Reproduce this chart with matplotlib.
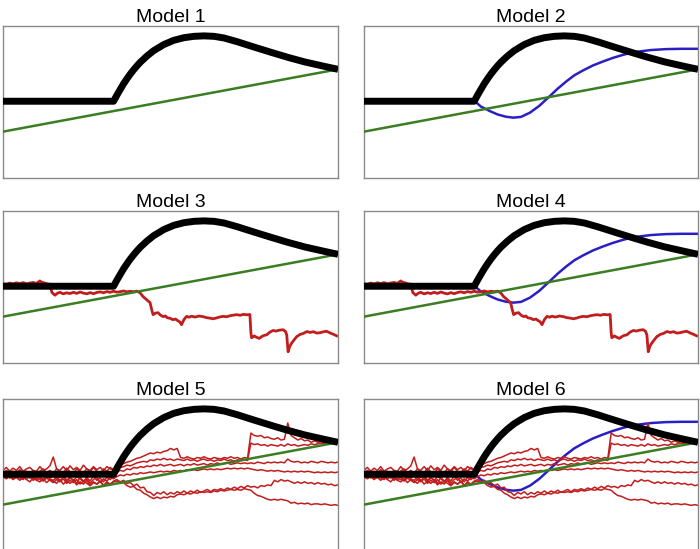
import matplotlib
matplotlib.use("Agg")
import matplotlib.pyplot as plt

# shared curves, in axes-percent units (0..100)
black_x = [0, 33, 34, 35, 36, 37, 38, 39, 40, 41, 43, 45, 48, 51, 54, 57, 60, 63, 66, 70, 75, 80, 85, 90, 95, 100]
black_y = [50.5, 50.5, 54.5, 58.3, 62, 65.3, 68.4, 71.2, 73.8, 76.2, 80.3, 83.8, 87.8, 90.6, 92.3, 93.2, 93.5, 93.2,
           92.1, 89.6, 86.1, 82.7, 79.4, 76.4, 73.9, 71.5]

green_x = [0, 100]
green_y = [30.5, 71.5]

blue_x = [33.2, 35, 37.7, 40, 42.5, 44.7, 47, 49.7, 52.5, 55.6, 58, 60.6, 63, 65.6, 68.5, 71.6, 74.5, 77.5, 80,
          82.6, 86, 90.5, 95, 100]
blue_y = [50.5, 47, 44, 41.8, 40.3, 39.7, 40.2, 43, 47.5, 53.8, 58.8, 63.6, 67.6, 70.8, 74, 76.7, 79, 81, 82.4,
          83.3, 84.2, 84.8, 85, 85]

# single red trace (models 3 and 4)
red1_x = [0, 1, 2, 3, 4, 5, 6, 7, 8, 9, 10, 11, 11.5, 12.5, 13.3, 14, 14.6, 15.5, 16.3, 17, 18, 19, 20, 21, 22, 23,
          24, 25, 26, 27, 28, 29, 30, 31, 32, 33, 34, 35, 36, 37, 38, 39, 40, 41, 41.8, 42.8, 43.9, 44.4, 44.8,
          45.5, 46.3, 47, 47.8, 48.5, 49, 50, 50.7, 51.5, 52.2, 52.8, 53.3, 54, 54.8, 55.5, 56.3, 57.3, 58.5, 59.7,
          60.8, 61.8, 62.7, 63.7, 64.7, 65.7, 66.7, 67.8, 68.8, 69.8, 70.8, 71.8, 72.8, 73.7, 74.0, 74.2, 75, 75.7,
          76.5, 77.3, 78, 78.7, 79.6, 80.6, 81.5, 82.5, 83.6, 84.3, 84.7, 85.1, 85.6, 86.2, 87, 87.7, 88.7, 89.7,
          90.7, 91.7, 92.7, 93.6, 94.6, 95.6, 96.6, 97.6, 98.6, 99.6]
red1_y = [52.3, 51.8, 52.6, 52, 52.8, 52.2, 52.9, 52.1, 52.6, 53, 52.4, 54, 53.2, 52.6, 52, 51.8, 46.4, 44.6, 46,
          46.5, 45.5, 46.2, 45.7, 46.5, 45.8, 46.7, 46, 45.5, 46.3, 45.6, 46.4, 46.8, 46.2, 47, 46.5, 47.2, 46.6,
          46.9, 47.4, 46.8, 47.2, 46.9, 47.3, 46, 43.7, 41.8, 39.7, 35, 31.8, 32.8, 33.1, 31.5, 30.5, 30.9, 29.8,
          29.3, 28.5, 28.9, 27.8, 27, 25.2, 28.5, 30.7, 30.1, 30.8, 30.2, 30.9, 30.5, 29.8, 29.5, 29.1, 29.6, 30.3,
          30.7, 30.4, 31.1, 31.5, 31.8, 31.4, 32.0, 31.7, 31.9, 20, 16.6, 17.8, 16.9, 16.2, 17.5, 18.2, 18.5, 20.2,
          21.4, 21, 21.6, 21.9, 20.8, 18.5, 7.4, 11, 13.2, 15.5, 17.4, 18.8, 19.5, 20.7, 20.1, 20.6, 19.7, 19.9,
          20.5, 20.9, 19.8, 18.9, 17.9]

# six red traces (models 5 and 6), one value per x step of 1
grid_x = list(range(101))
redA_y = [53, 55, 52.5, 54.5, 53, 55.5, 52.5, 54, 55, 53, 52.5, 55.5, 53, 54, 56, 61.8, 54, 53, 55.5, 53, 56,
          53.5, 55, 53, 56.5, 54, 53, 55.5, 53.5, 55, 53, 55.5, 54, 53.5,
          55.5, 56.5, 57.5, 58.5, 59, 60, 61, 61.5, 62.5, 63.5, 64.5, 64, 65, 64.5, 65.5, 66, 67.5, 66.5, 67.5,
          61.5, 61, 62, 61, 60.5, 61.5, 61, 62, 61, 60.5, 61.5, 61, 60.5, 61.5, 61, 62, 61, 61.5, 60.5, 61.5, 61,
          77.6, 76, 75.5, 76, 74.5, 75, 74, 73.5, 74.5, 73, 73.5, 84.2, 76, 74.5, 73, 74, 72.5, 73, 71.5, 72.5,
          71.5, 72, 71, 72, 71, 71.5, 71]
redB_y = [51, 53, 51.5, 52.5, 51, 53.5, 51.5, 52.5, 51, 53, 51, 52.5, 54, 51.5, 53, 51, 54, 52, 51.5, 54.5, 52,
          51, 54, 52.5, 51.5, 54, 52, 55, 52.5, 51.5, 54, 52.5, 55, 53.5,
          54, 55, 55.5, 56.5, 56, 57, 58, 58.5, 59, 58.5, 60, 59.5, 60.5, 60, 61, 60, 60.5, 59.5, 60.5, 60, 59.5,
          60.5, 59.5, 60, 59, 60, 60.5, 59.5, 60, 59, 60, 59.5, 60.5, 59.5, 60, 59, 60, 59.5, 60, 59.5,
          71, 70, 70.5, 69.5, 70, 69, 70, 69.5, 69, 70, 69, 70.5, 69.5, 70, 69, 69.5, 70, 69.5, 70.5, 70, 70.5,
          71, 70.5, 71.5, 71, 71.5, 71]
redC_y = [50.5, 49, 50, 48.5, 50.5, 49.5, 48, 50, 49.5, 47.5, 50, 48.5, 47, 49.5, 48, 49.5, 47, 48.5, 50, 46.5,
          48.5, 46, 49, 47.5, 45.5, 48.5, 46, 49.5, 46.5, 48, 45.5, 48.5, 47, 49,
          52, 53, 52.5, 54, 53.5, 55, 54.5, 55.5, 55, 56, 55.5, 56.5, 56, 57, 56, 56.5, 57, 56, 56.5, 57, 56, 57,
          56.5, 57.5, 56.5, 57, 57.5, 56.5, 57.5, 57, 58, 57, 57.5, 58, 57, 57.5, 58, 57.5, 58, 57.5, 58, 57.5,
          58.5, 58, 57.5, 58.5, 58, 58.5, 58, 58.5, 58, 60.5, 59, 58.5, 59, 58, 58.5, 58, 59, 58.5, 58, 59, 58.5,
          58, 58.5, 58, 58.5]
redD_y = [49.5, 48, 50, 47.5, 49, 48.5, 47, 49.5, 48, 49, 47, 48.5, 46.5, 49, 47.5, 46.5, 48.5, 46, 49, 45.5, 48,
          47, 44.5, 48.5, 46, 47.5, 44.5, 47, 48.5, 45, 47.5, 46, 48.5, 47.5,
          49, 50, 49.5, 50.5, 50, 51, 50.5, 51.5, 51, 51.5, 52, 51.5, 52, 52.5, 52, 52.5, 52, 53, 52.5, 53, 52.5,
          53.5, 53, 53.5, 53, 53.5, 54, 53.5, 54, 53.5, 54, 53.5, 54, 54.5, 54, 54.5, 54, 54.5, 54, 54.5, 54,
          53.5, 53, 53.5, 53, 52.5, 53, 52.5, 53, 52.5, 52, 52.5, 52, 52.5, 52, 52.5, 52, 52.5, 52, 51.5, 52,
          51.5, 52, 51.5, 52, 51.5, 52]
redE_y = [48.5, 47.5, 49, 47, 48.5, 46.5, 48.5, 47, 45.5, 48, 46.5, 45.5, 47.5, 45, 47, 46, 44.5, 47, 44, 46,
          44.5, 46.5, 43.5, 45.5, 44, 46.5, 43, 45, 44, 46, 43, 45.5, 44, 46,
          47, 45.5, 46.5, 44.5, 45, 43, 44, 41.5, 42, 39, 38.5, 36.5, 38.5, 37.5, 39, 37, 38.5, 37.5, 39, 38,
          39.5, 38, 39.5, 38.5, 40, 38.5, 39.5, 40.5, 39, 40.5, 40, 41, 40, 41.5, 40.5, 42, 41, 42.5, 41.5, 43,
          42, 42.5, 41.5, 43, 42.5, 43.5, 43, 46.5, 45.5, 47, 46, 46.5, 45.5, 44.5, 45.5, 44.5, 45.5, 44.5, 45,
          44, 45, 44, 44.5, 43.5, 44, 43, 43.5]
redF_y = [49, 50, 48, 49.5, 48.5, 47, 48.5, 47.5, 49, 46.5, 48, 47, 46, 48, 46.5, 45, 47, 45.5, 47.5, 44.5, 46.5,
          45, 47, 44, 46, 44.5, 43, 45.5, 44, 46, 43, 45, 43.5, 45.5,
          46, 44.5, 45, 43, 42, 42.5, 40.5, 40, 38, 37, 35.5, 34.5, 35.5, 34.5, 35.5, 35, 36, 35.5, 37, 37.5, 37,
          38, 37.5, 38.5, 38, 39, 38.5, 39, 38.5, 39.5, 39, 40, 39.5, 40, 40.5, 40, 40.5, 40, 41, 40.5, 40, 38,
          36.5, 36, 35, 34, 33.5, 34, 33.5, 34, 33.5, 33, 31.5, 32, 31, 31.5, 31, 31.5, 30.5, 31, 31, 30.5, 31,
          30.5, 30, 30.5, 30]

many_red = [redA_y, redB_y, redC_y, redD_y, redE_y, redF_y]

titles = ["Model 1", "Model 2", "Model 3", "Model 4", "Model 5", "Model 6"]
show_blue = [False, True, False, True, False, True]
red_kind = [None, None, "one", "one", "many", "many"]

BLACK = "#000000"
GREEN = "#3a7d22"
BLUE = "#2a1fc4"
RED = "#c21d1d"

fig = plt.figure(figsize=(7, 5.49), dpi=100)

col_left = [3 / 700, 364 / 700]
col_w = [335 / 700, 334 / 700]
row_bottom = [1 - 178 / 549, 1 - 363 / 549, 1 - 551 / 549]
row_h = 152 / 549

for i, title in enumerate(titles):
    r, c = divmod(i, 2)
    ax = fig.add_axes([col_left[c], row_bottom[r], col_w[c], row_h])
    ax.set_xlim(0, 100)
    ax.set_ylim(0, 100)
    ax.set_xticks([])
    ax.set_yticks([])
    for s in ax.spines.values():
        s.set_color("#8a8a8a")
        s.set_linewidth(1.0)

    if show_blue[i]:
        ax.plot(blue_x, blue_y, color=BLUE, lw=1.8, zorder=1)
    if red_kind[i] == "one":
        ax.plot(red1_x, red1_y, color=RED, lw=2.0, zorder=2)
    elif red_kind[i] == "many":
        for ys in many_red:
            ax.plot(grid_x, ys, color=RED, lw=1.1, zorder=2)
    ax.plot(green_x, green_y, color=GREEN, lw=1.8, zorder=3)
    ax.plot(black_x, black_y, color=BLACK, lw=5, zorder=4,
            solid_joinstyle="round", solid_capstyle="butt")

    ax.set_title(title, fontsize=14, family="Liberation Sans", pad=3)

fig.savefig("out.png", dpi=100)
